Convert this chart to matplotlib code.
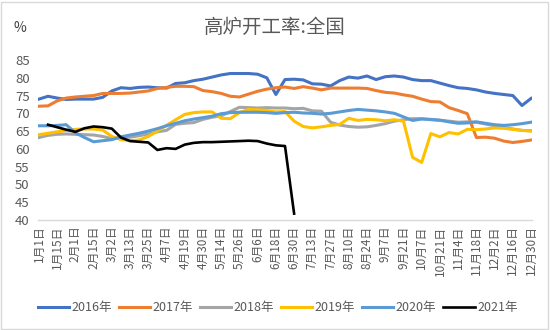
import numpy as np
import matplotlib
matplotlib.use("Agg")
import matplotlib.pyplot as plt
from matplotlib.patches import Rectangle

plt.rcParams["font.family"] = ["Noto Sans CJK SC", "DejaVu Sans"]

# weekly categories, every second one is labelled on the axis
tick_labels = [
    "1月1日", "1月15日", "2月1日", "2月15日", "3月2日", "3月13日", "3月25日",
    "4月7日", "4月19日", "4月30日", "5月14日", "5月26日", "6月6日", "6月18日",
    "6月30日", "7月13日", "7月27日", "8月10日", "8月24日", "9月7日", "9月21日",
    "10月7日", "10月21日", "11月4日", "11月18日", "12月2日", "12月16日", "12月30日",
]

y2016 = [74.0, 74.8, 74.3, 73.9, 74.0, 74.0, 74.0, 74.5, 76.3, 77.2, 77.0, 77.3,
         77.4, 77.2, 77.1, 78.4, 78.6, 79.2, 79.6, 80.2, 80.8, 81.2, 81.2, 81.2,
         81.0, 80.0, 75.3, 79.5, 79.6, 79.4, 78.3, 78.2, 77.7, 79.2, 80.2, 79.9,
         80.5, 79.5, 80.3, 80.5, 80.2, 79.5, 79.2, 79.2, 78.5, 77.8, 77.2, 77.0,
         76.6, 76.0, 75.6, 75.3, 75.0, 72.2, 74.2]
y2017 = [72.0, 72.1, 73.5, 74.3, 74.6, 74.8, 75.0, 75.6, 75.6, 75.6, 75.7, 76.0,
         76.3, 77.0, 77.3, 77.6, 77.6, 77.5, 76.4, 76.1, 75.6, 74.8, 74.6, 75.4,
         76.2, 76.8, 77.2, 77.4, 77.0, 77.5, 77.1, 76.6, 77.1, 77.1, 77.1, 77.1,
         77.0, 76.4, 75.9, 75.7, 75.2, 74.8, 74.0, 73.3, 73.2, 71.6, 70.8, 69.9,
         63.2, 63.3, 63.0, 62.2, 61.8, 62.1, 62.5]
y2018 = [63.2, 63.8, 64.1, 64.2, 64.1, 64.0, 63.9, 63.5, 62.9, 63.1, 63.3, 63.7,
         64.2, 64.8, 65.2, 66.9, 67.2, 67.4, 68.3, 68.9, 69.3, 70.5, 71.7, 71.6,
         71.5, 71.6, 71.5, 71.5, 71.3, 71.4, 70.7, 70.6, 67.5, 66.7, 66.3, 66.1,
         66.2, 66.6, 67.1, 67.8, 68.2, 68.5, 68.5, 68.2, 68.0, 67.8, 67.5, 67.6,
         67.5, 67.0, 66.5, 66.1, 65.6, 65.2, 65.1]
y2019 = [64.0, 64.4, 64.8, 65.2, 65.5, 65.6, 65.6, 65.3, 63.5, 62.6, 62.3, 62.5,
         63.5, 65.0, 66.6, 68.2, 69.7, 70.2, 70.4, 70.4, 68.6, 68.5, 70.2, 71.1,
         71.0, 70.8, 70.4, 70.5, 67.8, 66.3, 65.9, 66.2, 66.6, 66.9, 68.6, 68.0,
         68.3, 68.2, 67.9, 68.2, 67.8, 57.6, 56.2, 64.3, 63.4, 64.6, 64.2, 65.5,
         65.4, 65.6, 65.9, 65.8, 65.5, 65.2, 65.0]
y2020 = [66.5, 66.5, 66.6, 66.8, 64.5, 63.2, 62.0, 62.3, 62.6, 63.4, 63.9, 64.4,
         65.0, 65.7, 66.5, 67.2, 67.9, 68.4, 68.8, 69.2, 69.9, 70.2, 70.3, 70.3,
         70.3, 70.2, 70.0, 70.2, 70.3, 70.1, 70.0, 69.8, 70.0, 70.4, 70.8, 71.1,
         70.9, 70.7, 70.4, 70.0, 69.0, 68.0, 68.4, 68.3, 68.1, 67.6, 67.2, 67.3,
         67.6, 67.2, 66.8, 66.6, 66.8, 67.1, 67.5]
y2021 = [np.nan, 66.8, 66.1, 65.4, 64.8, 65.8, 66.3, 66.1, 65.7, 63.2, 62.2, 62.0,
         61.8, 59.7, 60.2, 60.0, 61.2, 61.7, 61.9, 61.9, 62.0, 62.1, 62.2, 62.3,
         62.2, 61.5, 61.0, 60.8, 41.8]

series = [
    ("2016年", y2016, "#4472C4"),
    ("2017年", y2017, "#ED7D31"),
    ("2018年", y2018, "#A5A5A5"),
    ("2019年", y2019, "#FFC000"),
    ("2020年", y2020, "#5B9BD5"),
    ("2021年", y2021, "#000000"),
]

fig = plt.figure(figsize=(5.5, 3.3), dpi=100)
ax = fig.add_axes([38 / 550, 110 / 330, 494 / 550, 160 / 330])

for name, vals, color in series:
    x = np.arange(len(vals))
    ax.plot(x, vals, color=color, lw=2.2 if color != "#000000" else 1.9,
            label=name, solid_joinstyle="round")

n = len(y2016)
ax.set_xlim(-0.1, n - 1 + 0.1)
ax.set_ylim(40, 85)
ax.set_yticks(np.arange(40, 86, 5))
ax.set_xticks(np.arange(0, n, 2))
ax.set_xticklabels(tick_labels, rotation=90, fontsize=8.5, color="#595959")
ax.tick_params(axis="y", labelsize=9.5, labelcolor="#595959", length=0, pad=6)
ax.tick_params(axis="x", length=0, pad=4)

for side in ("top", "right", "left"):
    ax.spines[side].set_visible(False)
ax.spines["bottom"].set_color("#D9D9D9")
ax.spines["bottom"].set_linewidth(1.0)

fig.text(0.5, 1 - 27 / 330, "高炉开工率:全国", ha="center", va="center",
         fontsize=14, color="#595959")
fig.text(13 / 550, 1 - 28 / 330, "%", ha="left", va="center",
         fontsize=10, color="#404040")

fig.legend(loc="center", bbox_to_anchor=(0.505, 1 - 308 / 330), ncol=6,
           frameon=False, fontsize=9, handlelength=2.5, handletextpad=0.2,
           columnspacing=0.55, labelcolor="#595959")

fig.patches.append(Rectangle((0.002, 0.004), 0.994, 0.99, transform=fig.transFigure,
                             fill=False, edgecolor="#D9D9D9", lw=1.0))

fig.savefig("out.png", dpi=100)
